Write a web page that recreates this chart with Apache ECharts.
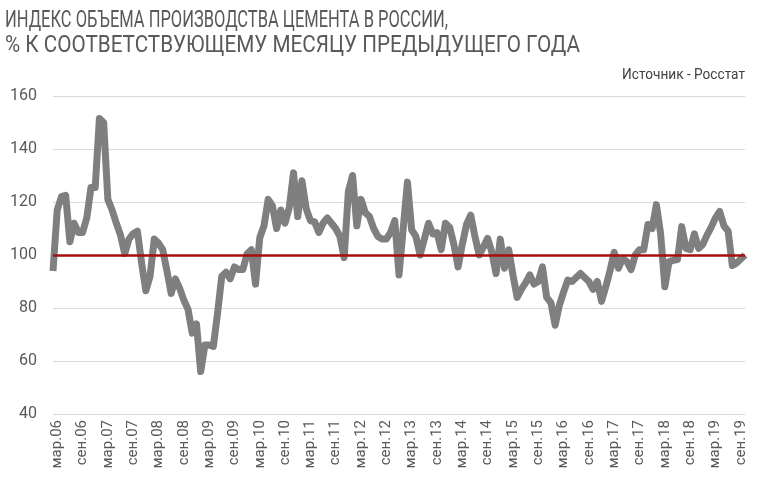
<!DOCTYPE html>
<html><head><meta charset="utf-8">
<script src="https://cdn.jsdelivr.net/npm/echarts@6/dist/echarts.min.js"></script>
<style>html,body{margin:0;padding:0;background:#fff}#c{width:761px;height:494px}</style>
</head><body><div id="c"></div>
<script>
// ---- data ----
const titleLines = ['ИНДЕКС ОБЪЕМА ПРОИЗВОДСТВА ЦЕМЕНТА В РОССИИ,', '% К СООТВЕТСТВУЮЩЕМУ МЕСЯЦУ ПРЕДЫДУЩЕГО ГОДА'];
const sourceText = 'Источник - Росстат';
const monthNames = ['янв','фев','мар','апр','май','июн','июл','авг','сен','окт','ноя','дек'];
const firstYear = 2006, firstMonth = 1; // фев.06
const lastYear = 2019, lastMonth = 9;   // окт.19
const yTicks = [40, 60, 80, 100, 120, 140, 160];
const refValue = 100;
const values = [
 94,117,122,122.5,105,112,108.5,108.5,114,125.5,125.5,151.5,
 150,121,117,112,107.5,100.5,106,108,109,97,86.5,92,
 106,104.5,102,94,85.5,91,87.5,83,79.5,70.5,74,56,
 66,66,65.5,78,92,93.5,91,95.5,94.5,94.5,100.5,102,
 89,106.5,111,121,118.5,110,117,112,118,131,114.5,128,
 117.5,113,112.5,108.5,112,114,112,110,107,99,124,130,
 111,121,116,114.5,110,107,106,106,108.5,113,92.5,110,
 127.5,109.5,107,100,106,112,108,108.5,102,112,110.5,104,
 95.5,104,111.5,115,107,100,103,106.3,101,93,106,95,
 102,92.5,84,87,89.5,92.5,89,90,95.5,84,82,73.5,
 81,86,90.5,90,91.5,93,91.5,90,87,90,82.5,88,
 94,101,95,98.7,97.5,94.5,100,102,102,111.5,110,119,
 108,88,97.5,98,98.3,110.7,102.5,102,108,102.5,104,107.5,
 110.5,114,116.4,111,109,96,97,98.5,100
];
// ---- categories ----
const categories = [];
for (let y = firstYear, m = firstMonth; y < lastYear || (y === lastYear && m <= lastMonth); ) {
  categories.push(monthNames[m] + '.' + String(y).slice(2));
  m++; if (m > 11) { m = 0; y++; }
}

const chart = echarts.init(document.getElementById('c'), null, {renderer: 'canvas'});
const titleFont = '24px Roboto';
const cv = document.createElement('canvas').getContext('2d');
function fitScale(txt, font, target) { cv.font = font; return target / cv.measureText(txt).width; }
const titleTargets = [443, 575];

chart.setOption({
  animation: false,
  backgroundColor: '#ffffff',
  grid: {left: 53, right: 16, top: 96, bottom: 80, containLabel: false},
  graphic: [
    {type: 'text', x: 5, y: 9, scaleX: fitScale(titleLines[0], titleFont, titleTargets[0]),
     style: {text: titleLines[0], font: titleFont, fill: '#595959'}},
    {type: 'text', x: 5, y: 34, scaleX: fitScale(titleLines[1], titleFont, titleTargets[1]),
     style: {text: titleLines[1], font: titleFont, fill: '#595959'}},
    {type: 'text', x: 745, y: 68, originX: 0, scaleX: fitScale(sourceText, '15px Roboto', 123),
     style: {text: sourceText, font: '15px Roboto', fill: '#404040', align: 'right'}}
  ],
  xAxis: {
    type: 'category', data: categories, boundaryGap: false,
    axisLine: {show: false}, axisTick: {show: false},
    axisLabel: {
      interval: function (idx) { return idx % 6 === 1; },
      rotate: 90, margin: 6, color: '#595959', fontFamily: 'Roboto', fontSize: 15
    }
  },
  yAxis: {
    type: 'value', min: yTicks[0], max: yTicks[yTicks.length - 1], interval: 20,
    axisLine: {show: false}, axisTick: {show: false},
    axisLabel: {color: '#595959', fontFamily: 'Roboto', fontSize: 16, margin: 16},
    splitLine: {lineStyle: {color: '#d9d9d9', width: 1}}
  },
  series: [{
    type: 'line', data: values, symbol: 'none', smooth: false,
    lineStyle: {color: '#7f7f7f', width: 7, join: 'round'},
    markLine: {
      silent: true, symbol: 'none', label: {show: false},
      lineStyle: {color: '#a50f0f', width: 2.5, type: 'solid'},
      data: [{yAxis: refValue}]
    }
  }]
});
</script></body></html>
